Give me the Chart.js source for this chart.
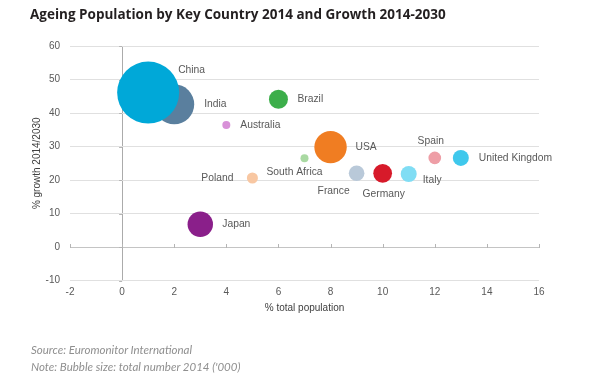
<!DOCTYPE html>
<html lang="en">
<head>
    <meta charset="UTF-8">
    <title>Ageing Population by Key Country</title>
    <script src="https://cdn.jsdelivr.net/npm/chart.js"></script>
    <style>
        body { margin: 0; background: #fff; width: 609px; height: 384px; position: relative; overflow: hidden; }
        #title { position: absolute; left: 30px; top: 5px; font: 700 13.5px "Open Sans", sans-serif; color: #231f20; white-space: nowrap; }
        #chartBox { position: absolute; left: 0; top: 0; }
        .note { position: absolute; left: 31px; font: italic 11.5px Lato, sans-serif; color: #8f8f8f; white-space: nowrap; }
    </style>
</head>
<body>
    <canvas id="chartBox" width="609" height="384"></canvas>
    <div id="title">Ageing Population by Key Country 2014 and Growth 2014-2030</div>
    <div class="note" style="top:343px">Source: Euromonitor International</div>
    <div class="note" style="top:360px">Note: Bubble size: total number 2014 ('000)</div>

    <script>
        // data (India before China so China sits on top)
        const countries = ["India", "China", "Brazil", "Australia", "USA", "South Africa", "Poland",
                           "France", "Germany", "Italy", "Spain", "United Kingdom", "Japan"];
        const totalPopShare = [2, 1, 6, 4, 8, 7, 5, 9, 10, 11, 12, 13, 3];          // % total population
        const growth = [42.6, 46.1, 44.1, 36.4, 29.8, 26.5, 20.6, 22, 22, 21.8, 26.6, 26.6, 6.8]; // % growth 2014/2030
        const total2014 = [55000, 132000, 12400, 2200, 36000, 2200, 4200, 8400, 12100, 8800, 5500, 8800, 22200]; // '000

        const colors = ["#5a7f9e", "#00a8d8", "#3cae4a", "#d891d8", "#f07d22", "#a9d9a2", "#f8c7a2",
                        "#b9c9d9", "#d71a2a", "#80ddf4", "#ee9ea6", "#3fc8ec", "#8a1f8a"];

        // label offsets from bubble centre: [dx, dy, align]
        const labelPos = [
            [30, 0, "left"], [30, -22, "left"], [19, 0, "left"], [14, 0, "left"], [25, 0, "left"],
            [-10, 14, "center"], [-19, 0, "right"], [-23, 18, "center"], [1, 21, "center"],
            [14, 6, "left"], [-4, -17, "center"], [18, 0, "left"], [22, 0, "left"]
        ];

        const maxRadius = 31;
        const maxPop = Math.max(...total2014);
        const points = countries.map((c, i) => ({
            x: totalPopShare[i],
            y: growth[i],
            r: maxRadius * Math.sqrt(total2014[i] / maxPop)
        }));

        const labelPlugin = {
            id: "labels",
            afterDatasetsDraw(chart) {
                const ctx = chart.ctx;
                const meta = chart.getDatasetMeta(0);
                ctx.save();
                ctx.font = "10.3px 'Liberation Sans', Arial, sans-serif";
                ctx.fillStyle = "#595959";
                ctx.textBaseline = "middle";
                meta.data.forEach((el, i) => {
                    const [dx, dy, align] = labelPos[i];
                    ctx.textAlign = align;
                    ctx.fillText(countries[i], el.x + dx, el.y + dy);
                });
                ctx.restore();
            }
        };

        // small tick marks along the x=0 and y=0 lines
        const axisTicks = {
            id: "axisTicks",
            beforeDatasetsDraw(chart) {
                const ctx = chart.ctx;
                const xs = chart.scales.x, ys = chart.scales.y;
                const x0 = xs.getPixelForValue(0), y0 = ys.getPixelForValue(0);
                ctx.save();
                ctx.strokeStyle = "#b5b5b5";
                ctx.lineWidth = 1;
                ctx.beginPath();
                xs.ticks.forEach(t => {
                    const px = Math.round(xs.getPixelForValue(t.value)) + 0.5;
                    ctx.moveTo(px, y0 - 3); ctx.lineTo(px, y0 + 1);
                });
                ys.ticks.forEach(t => {
                    const py = Math.round(ys.getPixelForValue(t.value)) + 0.5;
                    ctx.moveTo(x0 - 3, py); ctx.lineTo(x0, py);
                });
                ctx.stroke();
                ctx.restore();
            }
        };

        new Chart(document.getElementById("chartBox"), {
            type: "bubble",
            data: {
                datasets: [{
                    data: points,
                    backgroundColor: colors,
                    borderWidth: 0,
                    hoverBorderWidth: 0
                }]
            },
            options: {
                responsive: false,
                animation: false,
                layout: { padding: { left: 0, top: 46, right: 70, bottom: 63.5 } },
                plugins: { legend: { display: false }, tooltip: { enabled: false } },
                scales: {
                    x: {
                        type: "linear",
                        min: -2, max: 16,
                        afterFit: s => { s.height = 40; },
                        ticks: { stepSize: 2, color: "#595959", padding: 6, font: { size: 10, family: "'Liberation Sans', Arial" } },
                        grid: {
                            drawTicks: false,
                            color: ctx => ctx.tick && ctx.tick.value === 0 ? "#ababab" : "rgba(0,0,0,0)"
                        },
                        border: { display: false },
                        title: {
                            display: true, text: "% total population", color: "#404040",
                            font: { size: 10, family: "'Liberation Sans', Arial" },
                            padding: { top: 0, bottom: 6.5 }
                        }
                    },
                    y: {
                        min: -10, max: 60,
                        afterFit: s => { s.width = 70; },
                        ticks: { stepSize: 10, color: "#595959", padding: 10, font: { size: 10, family: "'Liberation Sans', Arial" } },
                        grid: {
                            drawTicks: false,
                            color: ctx => ctx.tick && ctx.tick.value === 0 ? "#c4c4c4" : "#e0e0e0"
                        },
                        border: { display: false },
                        title: {
                            display: true, text: "% growth 2014/2030", color: "#404040",
                            font: { size: 10, family: "'Liberation Sans', Arial" },
                            padding: { top: 31, bottom: 0 }
                        }
                    }
                }
            },
            plugins: [labelPlugin, axisTicks]
        });
    </script>
</body>
</html>
